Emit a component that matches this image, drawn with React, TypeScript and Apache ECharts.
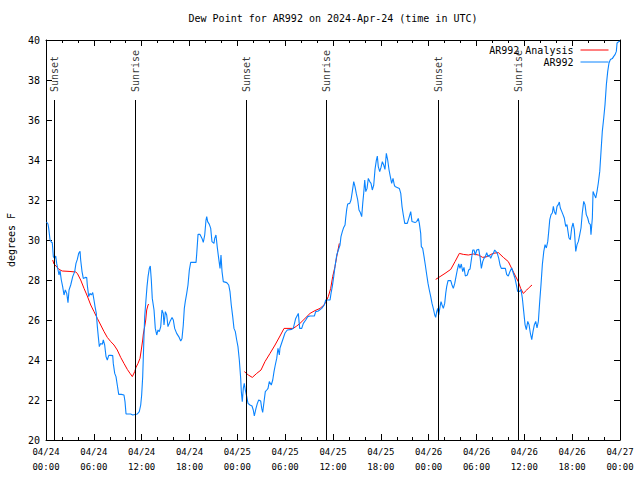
import React, { useEffect, useRef } from "react";
import * as echarts from "echarts";

// Hours since 2024-04-24 00:00 UTC
const dewPointTimes = [
  0.06, 0.25, 0.34, 0.5, 0.66, 0.79, 0.92, 1.09, 1.22, 1.34, 1.51, 1.63, 1.76, 1.92, 2.09, 2.26, 2.42, 2.6, 2.76, 2.89,
  3.1, 3.35, 3.6, 3.76, 3.93, 4.1, 4.27, 4.35, 4.52, 4.68, 4.93, 5.11, 5.18, 5.36, 5.52, 5.68, 5.86, 6.02, 6.15, 6.31,
  6.44, 6.56, 6.69, 6.86, 7.06, 7.19, 7.36, 7.53, 7.69, 7.87, 8.12, 8.37, 8.44, 8.62, 8.78, 8.94, 9.12, 9.45, 9.78, 9.91,
  10.04, 10.62, 10.88, 11.45, 11.7, 11.88, 12.0, 12.13, 12.21, 12.29, 12.38, 12.54, 12.67, 12.8, 12.96, 13.08, 13.21, 13.33, 13.55, 13.71,
  13.89, 14.05, 14.21, 14.39, 14.55, 14.71, 14.8, 14.97, 15.14, 15.3, 15.55, 15.81, 15.97, 16.14, 16.39, 16.65, 16.9, 17.06, 17.22, 17.35,
  17.47, 17.65, 17.81, 17.98, 18.15, 18.82, 18.9, 19.07, 19.32, 19.57, 19.73, 19.91, 20.07, 20.16, 20.28, 20.49, 20.66, 20.82, 21.07, 21.16,
  21.32, 21.49, 21.66, 21.83, 21.95, 22.08, 22.24, 22.67, 22.92, 23.08, 23.24, 23.42, 23.58, 23.75, 23.92, 24.08, 24.25, 24.42, 24.5, 24.62,
  24.75, 24.87, 25.0, 25.18, 25.34, 25.59, 25.84, 26.0, 26.13, 26.34, 26.51, 26.68, 26.93, 27.06, 27.18, 27.35, 27.51, 27.69, 27.85, 28.01,
  28.26, 28.44, 28.6, 28.76, 28.94, 29.1, 29.27, 29.35, 29.98, 30.27, 30.82, 31.02, 31.32, 31.65, 31.82, 32.08, 32.28, 32.58, 32.83, 33.12,
  33.66, 33.83, 34.16, 34.58, 34.91, 35.09, 35.63, 35.75, 35.91, 36.09, 36.25, 36.47, 36.67, 36.88, 37.0, 37.17, 37.34, 37.51, 37.59, 37.72,
  37.84, 38.1, 38.26, 38.42, 38.6, 38.76, 38.92, 39.1, 39.26, 39.43, 39.6, 39.73, 39.85, 39.98, 40.11, 40.27, 40.43, 40.61, 40.77, 40.93,
  41.11, 41.27, 41.43, 41.56, 41.68, 41.86, 42.02, 42.19, 42.36, 42.52, 42.69, 42.86, 43.03, 43.19, 43.36, 43.53, 43.69, 43.78, 44.32, 44.5,
  44.66, 44.82, 45.0, 45.32, 45.57, 45.75, 45.91, 46.29, 46.5, 46.7, 46.83, 47.0, 47.08, 47.25, 47.42, 47.58, 47.76, 47.92, 48.08, 48.26,
  48.42, 48.58, 48.76, 48.88, 49.01, 49.14, 49.26, 49.43, 49.55, 49.68, 49.84, 50.01, 50.14, 50.26, 50.43, 50.77, 50.93, 51.09, 51.27, 51.43,
  51.59, 51.77, 51.93, 52.09, 52.27, 52.43, 52.6, 52.85, 53.02, 53.19, 53.35, 53.53, 53.69, 53.85, 54.03, 54.28, 54.44, 54.61, 54.78, 54.94,
  55.11, 55.28, 55.44, 55.61, 55.78, 55.95, 56.11, 56.28, 56.45, 56.61, 56.79, 56.95, 57.11, 57.62, 57.79, 57.99, 58.2, 58.41, 58.61, 58.82,
  59.04, 59.16, 59.42, 59.58, 59.75, 59.92, 60.09, 60.25, 60.43, 60.59, 60.75, 60.93, 61.09, 61.26, 61.43, 61.59, 61.76, 61.93, 62.09, 62.26,
  62.44, 62.6, 62.76, 62.94, 63.06, 63.19, 63.35, 63.51, 63.64, 63.76, 63.94, 64.1, 64.26, 64.39, 64.51, 64.69, 64.85, 65.01, 65.19, 65.35,
  65.44, 65.6, 65.77, 65.94, 66.11, 66.27, 66.45, 66.61, 66.78, 66.95, 67.11, 67.27, 67.45, 67.61, 67.77, 67.95, 68.11, 68.28, 68.36, 68.53,
  68.62, 68.78, 68.96, 69.12, 69.28, 69.46, 69.62, 69.78, 69.96, 70.12, 70.29, 70.46, 70.62, 70.79, 71.04, 71.21, 71.38, 71.54, 71.63, 71.88,
  72.0,
];
const dewPointValues = [
  30.9, 30.8, 30.58, 30.03, 29.9, 29.86, 29.17, 29.08, 29.2, 28.83, 28.5, 28.25, 28.47, 28.0, 27.67, 27.25, 27.5, 27.33, 26.87, 27.5,
  27.75, 28.17, 28.42, 28.83, 29.03, 29.33, 29.43, 29.0, 28.42, 28.08, 28.13, 28.12, 27.75, 27.17, 27.33, 27.25, 27.37, 27.0, 26.67, 26.33,
  25.67, 25.17, 24.67, 24.83, 24.78, 25.0, 24.75, 24.17, 24.0, 24.23, 24.23, 24.22, 23.83, 23.33, 23.17, 22.75, 22.28, 22.28, 22.25, 21.92,
  21.3, 21.3, 21.25, 21.3, 21.42, 21.75, 22.25, 23.17, 24.17, 25.17, 26.17, 27.0, 27.67, 28.17, 28.58, 28.7, 28.0, 27.08, 26.5, 25.58,
  25.25, 25.5, 25.42, 25.67, 26.5, 26.33, 25.75, 26.42, 26.25, 25.67, 25.92, 26.12, 26.0, 25.58, 25.33, 25.17, 24.95, 25.08, 25.75, 26.58,
  26.92, 27.33, 27.75, 28.5, 28.88, 28.88, 29.28, 30.28, 30.28, 30.08, 29.88, 30.25, 31.0, 31.17, 30.92, 30.78, 30.58, 29.92, 29.83, 30.08,
  30.25, 29.62, 29.08, 28.58, 29.25, 28.42, 27.92, 27.87, 27.75, 27.42, 26.75, 26.17, 25.58, 25.42, 25.0, 24.67, 24.0, 23.08, 22.42, 21.92,
  22.58, 22.83, 22.5, 22.17, 21.83, 21.75, 21.7, 21.5, 21.2, 21.58, 21.83, 22.0, 21.95, 21.58, 21.38, 21.92, 22.42, 22.5, 22.58, 22.92,
  22.75, 23.0, 23.42, 23.75, 24.08, 24.58, 24.25, 24.6, 25.35, 25.5, 25.53, 25.58, 26.08, 26.33, 25.58, 25.58, 25.83, 26.0, 26.17, 26.2,
  26.2, 26.42, 26.45, 26.58, 26.75, 27.0, 27.0, 27.33, 27.67, 28.17, 28.67, 29.25, 29.5, 29.75, 30.17, 30.42, 30.63, 30.75, 31.08, 31.53,
  31.8, 31.83, 32.0, 32.42, 32.92, 32.67, 32.33, 32.0, 31.5, 31.37, 31.17, 31.83, 32.33, 33.0, 32.42, 32.58, 33.08, 32.92, 32.83, 32.5,
  32.75, 33.53, 33.97, 34.2, 33.67, 33.42, 33.63, 33.92, 33.75, 33.53, 34.33, 34.0, 33.5, 33.17, 32.83, 33.08, 32.75, 32.67, 32.58, 32.33,
  31.67, 31.25, 30.83, 30.83, 31.17, 31.42, 30.92, 30.87, 30.92, 31.08, 30.83, 30.33, 29.67, 29.58, 29.17, 28.75, 28.25, 27.83, 27.5, 27.17,
  26.83, 26.58, 26.25, 26.13, 26.42, 26.58, 26.25, 26.67, 26.92, 26.75, 26.58, 26.83, 27.33, 27.67, 27.97, 27.97, 27.75, 27.58, 27.83, 28.17,
  28.5, 28.8, 28.58, 28.8, 28.42, 28.63, 28.2, 28.25, 28.5, 28.55, 29.0, 29.5, 29.5, 29.25, 29.5, 29.53, 29.17, 28.58, 28.92, 29.08,
  29.17, 29.37, 29.17, 29.25, 29.08, 29.25, 29.33, 29.5, 29.42, 29.33, 29.08, 28.75, 28.58, 28.58, 28.27, 28.2, 28.43, 28.6, 28.35, 28.1,
  27.68, 27.43, 27.43, 27.52, 27.1, 26.43, 25.77, 25.52, 25.93, 25.77, 25.35, 25.02, 25.43, 25.77, 25.93, 25.6, 25.93, 26.93, 27.77, 28.77,
  29.43, 29.77, 29.6, 29.93, 30.43, 31.02, 31.27, 31.35, 31.68, 31.43, 31.27, 31.68, 31.77, 31.9, 31.6, 31.43, 31.27, 31.1, 30.68, 30.77,
  30.52, 30.1, 30.02, 30.6, 30.85, 30.52, 29.43, 29.77, 29.93, 30.27, 30.6, 31.35, 31.93, 31.77, 31.27, 31.1, 30.85, 30.77, 30.27, 31.1,
  32.43, 32.27, 32.1, 32.43, 32.85, 33.43, 34.43, 35.43, 36.1, 36.77, 37.77, 38.43, 38.85, 39.02, 39.07, 39.18, 39.27, 39.43, 39.85, 39.93,
  39.93,
];

// Analysis segments (null marks a gap between segments)
const analysisTimes = [
  0.84, 1.0, 1.25, 1.63, 2.04, 2.89, 3.73, 3.93, 4.35, 4.77, 5.18, 5.61, 6.02, 6.44, 6.86, 7.28, 7.69, 8.12, 8.53, 8.94,
  9.37, 9.78, 10.2, 10.54, 10.83, 11.13, 11.29, 11.54, 11.79, 11.95, 12.13, 12.21, 12.38, 12.51, 12.63, 12.8, 12.88,
  18.0,
  24.88, 25.38, 25.88, 26.43, 26.97, 27.47, 28.1, 28.73, 29.35, 29.86, 31.02, 31.45, 31.86, 32.49, 33.12, 33.74, 34.37, 34.87, 35.12, 35.41,
  35.71, 35.96, 36.25, 36.47, 36.63, 36.79,
  42.0,
  48.88, 49.43, 50.05, 50.77, 51.31, 51.85, 52.35, 52.98, 53.61, 54.23, 54.78, 55.36, 56.04, 56.74, 57.37, 57.99, 58.41, 58.82, 59.24, 59.54,
  59.87, 60.3, 60.62, 60.96,
];
const analysisValues: (number | null)[] = [
  29.0, 28.8, 28.7, 28.53, 28.45, 28.43, 28.4, 28.33, 28.0, 27.58, 27.2, 26.75, 26.42, 26.08, 25.75, 25.42, 25.13, 24.92, 24.75, 24.5,
  24.13, 23.83, 23.53, 23.33, 23.17, 23.42, 23.63, 23.83, 24.08, 24.5, 25.0, 25.3, 25.67, 26.0, 26.5, 26.75, 26.8,
  null,
  23.42, 23.25, 23.13, 23.33, 23.5, 23.92, 24.33, 24.75, 25.2, 25.58, 25.58, 25.7, 25.83, 26.08, 26.33, 26.47, 26.58, 26.75, 26.92, 27.17,
  27.58, 28.17, 28.67, 29.17, 29.5, 29.83,
  null,
  28.03, 28.17, 28.33, 28.53, 28.92, 29.33, 29.28, 29.25, 29.3, 29.25, 29.13, 29.17, 29.33, 29.37, 29.13, 28.92, 28.58, 28.25, 27.92, 27.58,
  27.33, 27.5, 27.63, 27.75,
];

const sunEventHours = [1.04, 11.2, 25.13, 35.16, 49.21, 59.25];
const sunEventNames = ["Sunset", "Sunrise", "Sunset", "Sunrise", "Sunset", "Sunrise"];

const xTickLabels = [
  "04/24\n00:00", "04/24\n06:00", "04/24\n12:00", "04/24\n18:00",
  "04/25\n00:00", "04/25\n06:00", "04/25\n12:00", "04/25\n18:00",
  "04/26\n00:00", "04/26\n06:00", "04/26\n12:00", "04/26\n18:00",
  "04/27\n00:00",
];
const yTickLabels = ["20", "22", "24", "26", "28", "30", "32", "34", "36", "38", "40"];

const FONT = "DejaVu Sans Mono";
const BLUE = "#0a84ff";
const RED = "#ff0000";

export default function App() {
  const ref = useRef<HTMLDivElement>(null);

  useEffect(() => {
    if (!ref.current) return;
    const chart = echarts.init(ref.current, undefined, { renderer: "svg" });

    const xAxisBase = {
      type: "value" as const,
      min: 0,
      max: 72,
      interval: 6,
      axisLine: { show: true, onZero: false, lineStyle: { color: "#000", width: 1 } },
      axisTick: { show: true, inside: true, length: 6, lineStyle: { color: "#000" } },
      minorTick: { show: true, splitNumber: 3, length: 3, lineStyle: { color: "#000" } },
      splitLine: { show: false },
      minorSplitLine: { show: false },
    };
    const yAxisBase = {
      type: "value" as const,
      min: 20,
      max: 40,
      interval: 2,
      axisLine: { show: true, onZero: false, lineStyle: { color: "#000", width: 1 } },
      axisTick: { show: true, inside: true, length: 6, lineStyle: { color: "#000" } },
      splitLine: { show: false },
    };

    chart.setOption({
      animation: false,
      backgroundColor: "#fff",
      textStyle: { fontFamily: FONT },
      title: {
        text: "Dew Point for AR992 on 2024-Apr-24 (time in UTC)",
        left: 333,
        top: 13,
        padding: 0,
        textAlign: "center",
        textStyle: { fontFamily: FONT, fontSize: 10, fontWeight: "normal", color: "#000" },
      },
      legend: {
        data: ["AR992 Analysis", "AR992"],
        orient: "vertical",
        align: "right",
        right: 31,
        top: 44,
        padding: 0,
        itemGap: 0,
        itemWidth: 28,
        itemHeight: 12,
        itemStyle: { opacity: 0 },
        lineStyle: { width: 1 },
        textStyle: { fontFamily: FONT, fontSize: 10, color: "#000", lineHeight: 12, padding: [0, 2, 0, 0] },
        selectedMode: false,
      },
      grid: {
        left: 46,
        right: 20,
        top: 40,
        bottom: 40,
        containLabel: false,
        outerBoundsMode: "none",
      },
      xAxis: [
        {
          ...xAxisBase,
          position: "bottom",
          axisLabel: {
            show: true,
            margin: 4,
            fontFamily: FONT,
            fontSize: 9,
            lineHeight: 15,
            color: "#000",
            formatter: (v: number) => xTickLabels[Math.round(v / 6)] ?? "",
          },
        },
        {
          ...xAxisBase,
          position: "top",
          axisLabel: { show: false },
        },
      ],
      yAxis: [
        {
          ...yAxisBase,
          position: "left",
          name: "degrees F",
          nameLocation: "middle",
          nameRotate: 90,
          nameGap: 30,
          nameTextStyle: { fontFamily: FONT, fontSize: 10, color: "#000" },
          axisLabel: {
            show: true,
            margin: 6,
            fontFamily: FONT,
            fontSize: 10,
            color: "#000",
            formatter: (v: number) => yTickLabels[Math.round((v - 20) / 2)] ?? "",
          },
        },
        {
          ...yAxisBase,
          position: "right",
          axisLabel: { show: false },
        },
      ],
      series: [
        {
          name: "AR992 Analysis",
          type: "line",
          xAxisIndex: 0,
          yAxisIndex: 0,
          data: analysisTimes.map((t, i) => [t, analysisValues[i] === null ? "-" : analysisValues[i]]),
          showSymbol: false,
          symbol: "none",
          connectNulls: false,
          lineStyle: { color: RED, width: 1 },
          itemStyle: { color: RED },
          silent: true,
          z: 2,
        },
        {
          name: "AR992",
          type: "line",
          xAxisIndex: 0,
          yAxisIndex: 0,
          data: dewPointTimes.map((t, i) => [t, dewPointValues[i]]),
          showSymbol: false,
          symbol: "none",
          lineStyle: { color: BLUE, width: 1.1 },
          itemStyle: { color: BLUE },
          silent: true,
          z: 3,
        },
        {
          name: "sun",
          type: "scatter",
          xAxisIndex: 0,
          yAxisIndex: 0,
          data: sunEventHours.map((h) => [h, 37.4]),
          symbolSize: 0,
          silent: true,
          label: {
            show: true,
            position: "inside",
            rotate: 90,
            align: "left",
            verticalAlign: "middle",
            fontFamily: FONT,
            fontSize: 10,
            color: "#000",
            formatter: (p: any) => sunEventNames[p.dataIndex],
          },
          markLine: {
            silent: true,
            symbol: ["none", "none"],
            label: { show: false },
            lineStyle: { color: "#000", width: 1, type: "solid" },
            data: sunEventHours.map((h) => [{ coord: [h, 20] }, { coord: [h, 37] }]),
          },
          z: 4,
        },
      ],
    });

    return () => chart.dispose();
  }, []);

  return (
    <div
      ref={ref}
      style={{ position: "fixed", left: 0, top: 0, width: 640, height: 480 }}
    />
  );
}
